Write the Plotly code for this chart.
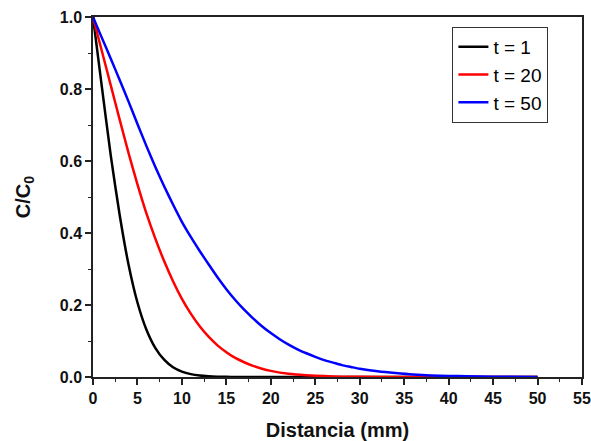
import plotly.graph_objects as go

# Data
x_t1 = [0, 1, 2, 3, 4, 5, 6, 7, 8, 9, 10, 11, 12, 13, 14, 15, 16, 20, 30, 40, 50]
c_t1 = [1.0, 0.805, 0.615, 0.45, 0.312, 0.207, 0.132, 0.081, 0.048, 0.027, 0.015, 0.008,
        0.004, 0.002, 0.001, 0.0005, 0, 0, 0, 0, 0]

x_t20 = [0, 1, 2, 3, 4, 5, 6, 7, 8, 9, 10, 11, 12, 13, 14, 15, 16, 17, 18, 19, 20,
         22, 24, 26, 28, 30, 35, 40, 45, 50]
c_t20 = [1.0, 0.905, 0.81, 0.715, 0.622, 0.535, 0.455, 0.385, 0.322, 0.266, 0.217, 0.176,
         0.141, 0.112, 0.088, 0.069, 0.053, 0.041, 0.031, 0.023, 0.017,
         0.009, 0.005, 0.0025, 0.001, 0.0005, 0, 0, 0, 0]

x_t50 = [0, 1, 2, 3, 4, 5, 6, 7, 8, 9, 10, 11, 12, 13, 14, 15, 16, 17, 18, 19, 20,
         21, 22, 23, 24, 25, 26, 27, 28, 29, 30, 32, 34, 36, 38, 40, 42, 45, 50]
c_t50 = [1.0, 0.942, 0.884, 0.825, 0.765, 0.703, 0.642, 0.584, 0.53, 0.479, 0.431, 0.389,
         0.35, 0.313, 0.277, 0.244, 0.214, 0.187, 0.163, 0.141, 0.122,
         0.105, 0.09, 0.077, 0.066, 0.056, 0.047, 0.04, 0.033, 0.028, 0.023,
         0.016, 0.011, 0.007, 0.0045, 0.003, 0.002, 0.001, 0.0003]

series = [
    ("t = 1", x_t1, c_t1, "#000000"),
    ("t = 20", x_t20, c_t20, "#ff0000"),
    ("t = 50", x_t50, c_t50, "#0000ff"),
]

x_ticks = [0, 5, 10, 15, 20, 25, 30, 35, 40, 45, 50, 55]
y_ticks = [0.0, 0.2, 0.4, 0.6, 0.8, 1.0]

FONT = "Liberation Sans, Arial, sans-serif"

fig = go.Figure()
for name, xs, ys, col in series:
    fig.add_trace(go.Scatter(x=xs, y=ys, mode="lines", name=name,
                             line=dict(color=col, width=2.5, shape="spline", smoothing=0.6)))

axis_common = dict(
    showgrid=False, zeroline=False, showline=True, linecolor="#222222", linewidth=1.5,
    mirror=True, ticks="outside", ticklen=6, tickwidth=1.5, tickcolor="#222222",
    tickfont=dict(family=FONT, size=16, color="#111111", weight="bold"),
    automargin=False,
)

fig.update_xaxes(
    range=[0, 55], tickvals=x_ticks, ticktext=[str(v) for v in x_ticks],
    minor=dict(dtick=2.5, ticks="outside", ticklen=3, tickwidth=1.2, tickcolor="#222222"),
    title=dict(text="Distancia (mm)", font=dict(family=FONT, size=20, color="#111111", weight="bold"), standoff=18),
    **axis_common,
)
fig.update_yaxes(
    range=[0, 1], tickvals=y_ticks, ticktext=[f"{v:.1f}" for v in y_ticks],
    minor=dict(dtick=0.1, ticks="outside", ticklen=3, tickwidth=1.2, tickcolor="#222222"),
    title=dict(text="C/C<sub>0</sub>", font=dict(family=FONT, size=20, color="#111111", weight="bold"), standoff=24),
    **axis_common,
)

fig.update_layout(
    width=591, height=441,
    margin=dict(l=93, r=9, t=17, b=64),
    paper_bgcolor="white", plot_bgcolor="white",
    font=dict(family=FONT),
    legend=dict(
        x=0.735, y=0.839, xanchor="left", yanchor="middle",
        bgcolor="white", bordercolor="#333333", borderwidth=1,
        font=dict(family=FONT, size=19, color="#000000"),
        tracegroupgap=0,
    ),
    showlegend=True,
)

fig.write_html("out.html")
